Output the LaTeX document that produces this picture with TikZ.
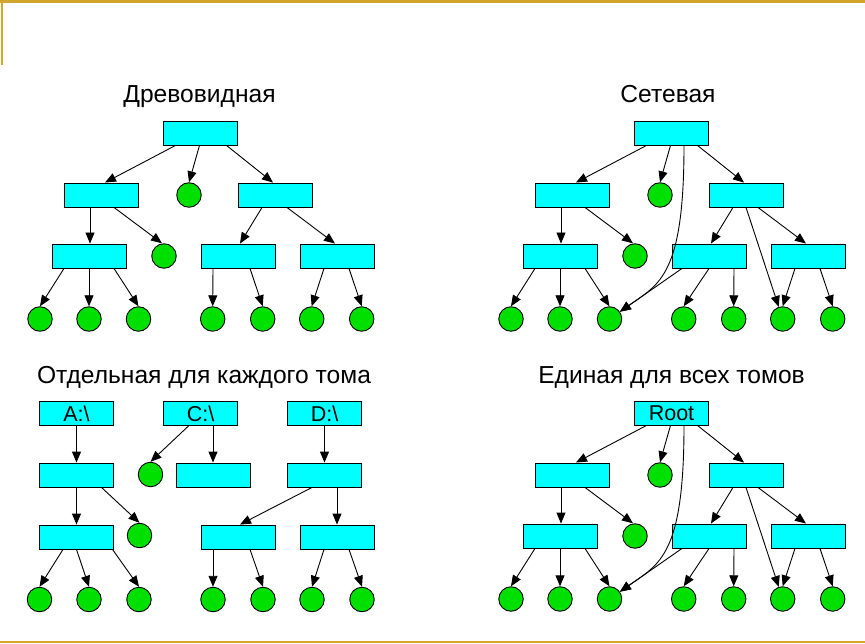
\documentclass[tikz,border=0pt]{standalone}
\usepackage{fontspec}
\setmainfont{Liberation Sans}
\usetikzlibrary{arrows.meta,positioning}
\definecolor{cF}{HTML}{00FFFF}
\definecolor{cL}{HTML}{00E000}
\definecolor{cB}{HTML}{D2A52D}
\tikzset{fold/.style={draw,fill=cF,line width=0.9pt,minimum width=74pt,minimum height=24pt,inner sep=0pt,font=\fontsize{21.5}{21.5}\selectfont},
  leaf/.style={draw,circle,fill=cL,line width=0.9pt,minimum size=24.5pt,inner sep=0pt},
  link/.style={line width=0.9pt,-{Triangle[length=11pt,width=9pt]}},
  title/.style={anchor=base,font=\fontsize{24.6}{24.6}\selectfont}}
\newcommand{\basetree}[3][]{%
  \begin{scope}[shift={(#3)}]
    \node[fold] (#2r) at (200.5,133) {#1};
    \node[fold] (#2a) at (101,195) {};
    \node[leaf] (#2c) at (189,195) {};
    \node[fold] (#2b) at (275,195) {};
    \node[fold] (#2aa) at (89,256) {};
    \node[leaf] (#2ac) at (164,256) {};
    \node[fold] (#2ba) at (238,256) {};
    \node[fold] (#2bb) at (337,256) {};
    \foreach \x [count=\i] in {40,89,138.5,212.7,262.7,311.7,361.7}
      \node[leaf] (#2f\i) at (\x,319) {};
  \end{scope}
  \draw[link] ([xshift=-25pt]#2r.south) -- ([xshift=4pt]#2a.north);
  \draw[link] ([xshift=-1pt]#2r.south) -- (#2c.north);
  \draw[link] ([xshift=26pt]#2r.south) -- ([xshift=-2pt]#2b.north);
  \draw[link] ([xshift=-11pt]#2a.south) -- ([xshift=1pt]#2aa.north);
  \draw[link] ([xshift=13pt]#2a.south) -- ([xshift=-2pt]#2ac.north);
  \draw[link] ([xshift=-13pt]#2b.south) -- ([xshift=2pt]#2ba.north);
  \draw[link] ([xshift=12pt]#2b.south) -- ([xshift=-2pt]#2bb.north);
  \draw[link] ([xshift=-25pt]#2aa.south) -- (#2f1.north);
  \draw[link] (#2aa.south) -- (#2f2.north);
  \draw[link] ([xshift=25pt]#2aa.south) -- (#2f3.north);
  \draw[link] ([xshift=-13pt]#2bb.south) -- (#2f6.north);
  \draw[link] ([xshift=12pt]#2bb.south) -- (#2f7.north);}
% extra links of the network tree
\newcommand{\netlinks}[1]{%
  \draw[link] (#1ba.south) -- (#1f4.north);
  \draw[link] ([xshift=25pt]#1ba.south) -- (#1f5.north);
  \draw[link] ([xshift=-27pt]#1ba.south) -- (#1f3);
  \draw[link] (#1b.south) -- (#1f6);
  \draw[link] ([xshift=12.5pt]#1r.south) .. controls +(0,130) and +(50,-35) .. (#1f3);}

\begin{document}
\begin{tikzpicture}[x=1pt,y=-1pt]
  \useasboundingbox (0,0) rectangle (865,644);
  \draw[cB,line width=2.5pt] (0,1.5) -- (865,1.5);
  \draw[cB,line width=2pt] (1.5,0) -- (1.5,65);
  \draw[cB,line width=2pt] (0,642) -- (865,642);
  \node[title] (tt) at (199.5,103) {Древовидная};
  \node[title] (nt) at (668,103) {Сетевая};
  \node[title] (vt) at (204,383) {Отдельная для каждого тома};
  \node[title] (ut) at (671.5,383) {Единая для всех томов};
  % tree
  \basetree{t}{0,0}
  \draw[link] ([xshift=-25pt]tba.south) -- (tf4.north);
  \draw[link] ([xshift=12pt]tba.south) -- (tf5.north);
  % network
  \basetree{n}{471,0}
  \netlinks{n}
  % one for all volumes
  \basetree[Root]{u}{471,280}
  \netlinks{u}
  % one per volume
  \node[fold] (va) at (76.5,413.5) {A:\textbackslash};
  \node[fold] (vc) at (200.5,413.5) {C:\textbackslash};
  \node[fold] (vd) at (324.5,413.5) {D:\textbackslash};
  \node[fold] (va2) at (76.5,475) {};
  \node[leaf] (vcc) at (150.5,474.5) {};
  \node[fold] (vc2) at (213,475) {};
  \node[fold] (vd2) at (324.5,475) {};
  \node[fold] (va3) at (76.5,537) {};
  \node[leaf] (vac) at (139.5,535.5) {};
  \node[fold] (vd3) at (238,537) {};
  \node[fold] (vd4) at (337,537) {};
  \foreach \x [count=\i] in {39.5,89,139,213,263,312,362}
    \node[leaf] (vf\i) at (\x,599.5) {};
  \draw[link] (va.south) -- (va2.north);
  \draw[link] ([xshift=-12pt]vc.south) -- (vcc.north);
  \draw[link] ([xshift=12.5pt]vc.south) -- (vc2.north);
  \draw[link] (vd.south) -- (vd2.north);
  \draw[link] (va2.south) -- (va3.north);
  \draw[link] ([xshift=25pt]va2.south) -- (vac.north);
  \draw[link] ([xshift=-12.5pt]vd2.south) -- ([xshift=2pt]vd3.north);
  \draw[link] ([xshift=12.5pt]vd2.south) -- (vd4.north);
  \draw[link] ([xshift=-13.5pt]va3.south) -- (vf1.north);
  \draw[link] (va3.south) -- (vf2.north);
  \draw[link] ([xshift=36pt]va3.south) -- (vf3.north);
  \draw[link] ([xshift=-25pt]vd3.south) -- (vf4.north);
  \draw[link] ([xshift=12pt]vd3.south) -- (vf5.north);
  \draw[link] ([xshift=-13pt]vd4.south) -- (vf6.north);
  \draw[link] ([xshift=12pt]vd4.south) -- (vf7.north);
\end{tikzpicture}
\end{document}
